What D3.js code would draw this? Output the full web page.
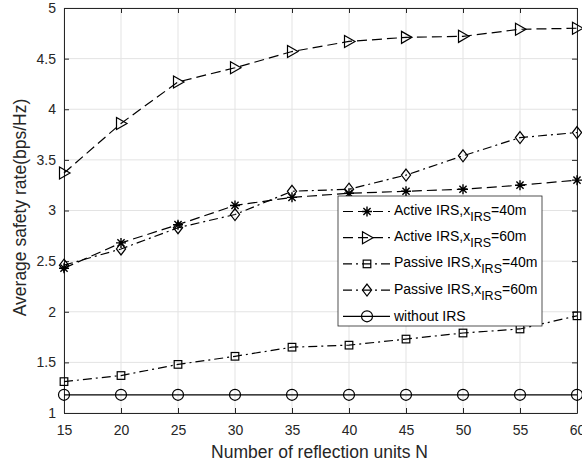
<!DOCTYPE html>
<html>
<head>
<script src="https://d3js.org/d3.v7.min.js"></script>
<style>
  body { margin: 0; background: #fff; }
  text { font-family: "Liberation Sans", Arial, sans-serif; }
</style>
</head>
<body>
<svg id="chart"></svg>
<script>
const N = [15, 20, 25, 30, 35, 40, 45, 50, 55, 60];
const active40  = [2.43, 2.68, 2.86, 3.05, 3.13, 3.17, 3.19, 3.21, 3.25, 3.30];
const active60  = [3.37, 3.86, 4.27, 4.41, 4.57, 4.67, 4.71, 4.72, 4.79, 4.80];
const passive40 = [1.31, 1.37, 1.48, 1.56, 1.65, 1.67, 1.73, 1.79, 1.83, 1.96];
const passive60 = [2.46, 2.62, 2.83, 2.96, 3.19, 3.21, 3.35, 3.54, 3.72, 3.77];
const noIRS     = [1.18, 1.18, 1.18, 1.18, 1.18, 1.18, 1.18, 1.18, 1.18, 1.18];
const yTicks = [1, 1.5, 2, 2.5, 3, 3.5, 4, 4.5, 5];

const W = 582, H = 464;
const margin = {top: 8, right: 5, bottom: 51, left: 64};
const width = W - margin.left - margin.right,
      height = H - margin.top - margin.bottom;
const ink = "#262626";

const svg = d3.select("#chart").attr("width", W).attr("height", H)
  .append("g").attr("transform", "translate(" + margin.left + "," + margin.top + ")");

const x = d3.scaleLinear().domain([15, 60]).range([0, width]);
const y = d3.scaleLinear().domain([1, 5]).range([height, 0]);

// grid
svg.append("g").selectAll("line").data(N).join("line")
  .attr("x1", d => x(d)).attr("x2", d => x(d)).attr("y1", 0).attr("y2", height)
  .attr("stroke", "#e3e3e3");
svg.append("g").selectAll("line").data(yTicks).join("line")
  .attr("x1", 0).attr("x2", width).attr("y1", d => y(d)).attr("y2", d => y(d))
  .attr("stroke", "#e3e3e3");

// axes, ticks pointing inward like matlab
svg.append("g").attr("transform", "translate(0," + height + ")")
  .call(d3.axisBottom(x).tickValues(N).tickSizeInner(-5).tickSizeOuter(0).tickPadding(12));
svg.append("g")
  .call(d3.axisLeft(y).tickValues(yTicks).tickFormat(d3.format("")).tickSizeInner(-5).tickSizeOuter(0).tickPadding(8));
svg.append("g").attr("transform", "translate(" + width + ",0)")
  .call(d3.axisRight(y).tickValues(yTicks).tickSizeInner(-5).tickSizeOuter(0).tickFormat(""));
svg.append("g")
  .call(d3.axisTop(x).tickValues(N).tickSizeInner(-5).tickSizeOuter(0).tickFormat(""));
svg.selectAll(".domain").attr("stroke", ink);
svg.selectAll(".tick line").attr("stroke", ink);
svg.selectAll(".tick text").attr("fill", ink).style("font-size", "14px")
  .style("font-family", "'Liberation Sans', Arial, sans-serif");

// axis titles
svg.append("text").attr("x", width / 2 - 1).attr("y", height + 45)
  .attr("text-anchor", "middle").attr("fill", ink).style("font-size", "17.5px")
  .text("Number of reflection units N");
svg.append("text").attr("transform", "rotate(-90)")
  .attr("x", -height / 2 + 3).attr("y", -38)
  .attr("text-anchor", "middle").attr("fill", ink).style("font-size", "17.5px")
  .text("Average safety rate(bps/Hz)");

// series
const series = [
  {name: "Active IRS,x", sub: "IRS", tail: "=40m", vals: active40, dash: "10,5", marker: "star"},
  {name: "Active IRS,x", sub: "IRS", tail: "=60m", vals: active60, dash: "10,5", marker: "tri"},
  {name: "Passive IRS,x", sub: "IRS", tail: "=40m", vals: passive40, dash: "9,4,2,4", marker: "square"},
  {name: "Passive IRS,x", sub: "IRS", tail: "=60m", vals: passive60, dash: "9,4,2,4", marker: "diamond"},
  {name: "without IRS", sub: "", tail: "", vals: noIRS, dash: null, marker: "circle"}
];

function drawMarker(g, type) {
  let m;
  if (type === "circle") m = g.append("circle").attr("r", 5.5);
  else if (type === "square") m = g.append("rect").attr("x", -3.8).attr("y", -3.8).attr("width", 7.6).attr("height", 7.6);
  else if (type === "diamond") m = g.append("path").attr("d", "M0,-6L4.6,0L0,6L-4.6,0Z");
  else if (type === "tri") m = g.append("path").attr("d", "M-4.5,-6L6,0L-4.5,6Z");
  else m = g.append("path").attr("d", "M-5,0H5M0,-5V5M-3.6,-3.6L3.6,3.6M-3.6,3.6L3.6,-3.6");
  m.attr("fill", "none").attr("stroke", "#000").attr("stroke-width", type === "star" ? 1.4 : 1.2);
}

const line = d3.line().x(d => x(d[0])).y(d => y(d[1]));
series.forEach(s => {
  const pts = N.map((n, i) => [n, s.vals[i]]);
  svg.append("path").datum(pts).attr("d", line)
    .attr("fill", "none").attr("stroke", "#000").attr("stroke-width", 1.2)
    .attr("stroke-dasharray", s.dash);
  pts.forEach(p => {
    drawMarker(svg.append("g").attr("transform", "translate(" + x(p[0]) + "," + y(p[1]) + ")"), s.marker);
  });
});

// legend
const lg = svg.append("g").attr("transform", "translate(" + (338 - margin.left) + "," + (196 - margin.top) + ")");
lg.append("rect").attr("width", 204).attr("height", 130)
  .attr("fill", "#fff").attr("stroke", ink).attr("stroke-width", 0.8);
series.forEach((s, i) => {
  const yy = 15.5 + i * 26.2;
  lg.append("line").attr("x1", 5).attr("x2", 52).attr("y1", yy).attr("y2", yy)
    .attr("stroke", "#000").attr("stroke-width", 1.2).attr("stroke-dasharray", s.dash);
  drawMarker(lg.append("g").attr("transform", "translate(29," + yy + ")"), s.marker);
  const t = lg.append("text").attr("x", 56).attr("y", yy + (s.sub ? 3.5 : 5))
    .attr("fill", "#000").style("font-size", "14px");
  t.append("tspan").text(s.name);
  if (s.sub) {
    t.append("tspan").attr("dy", 6).style("font-size", "12.5px").text(s.sub);
    t.append("tspan").attr("dy", -6).text(s.tail);
  }
});
</script>
</body>
</html>
